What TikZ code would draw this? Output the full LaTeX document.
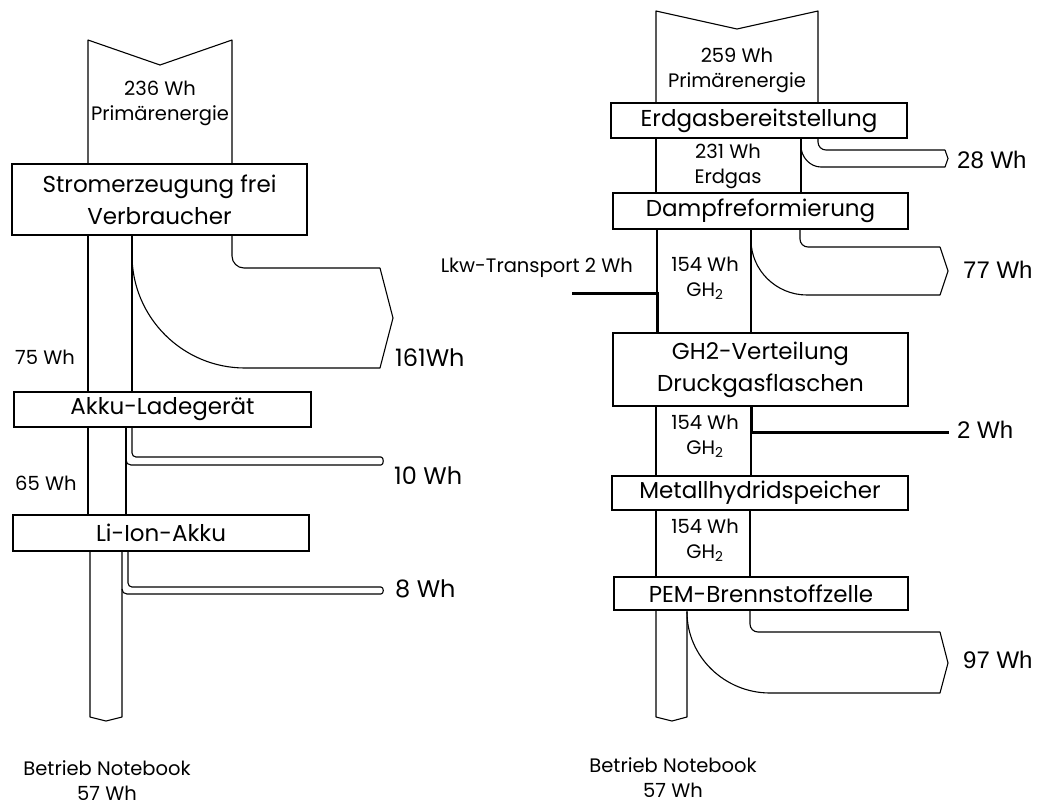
\documentclass[tikz,border=0pt]{standalone}
\usepackage{fontspec}
\setmainfont{Poppins}
\newfontfamily\arialfont{Liberation Sans}
\newcommand\bigtxt{\fontsize{23}{32}\selectfont}
\newcommand\smalltxt{\fontsize{19.5}{25}\selectfont}
\newcommand\losstxt{\fontsize{24}{28}\selectfont}

\begin{document}
\begin{tikzpicture}[x=1pt,y=-1pt,
  flow/.style={line width=1.1pt, line join=round},
  thickflow/.style={line width=3pt},
  boxline/.style={draw, fill=white, line width=1.3pt, inner sep=0pt, align=center, font=\bigtxt},
  lbl/.style={font=\smalltxt, align=center, inner sep=0pt},
  loss/.style={font=\losstxt, anchor=west, inner sep=0pt},
  lossr/.style={font=\arialfont\losstxt, anchor=west, inner sep=0pt}]
\useasboundingbox (0,0) rectangle (1037,807);

% left: Strom aus dem Netz
\draw[flow] (88,164) -- (88,40) -- (160,65) -- (232,40) -- (232,164);
\node[lbl] (lprim) at (160,103) {236 Wh\\Primärenergie};

\draw[flow] (88,235) -- (88,392);
\draw[flow] (132,235) -- (132,392);
\draw[flow, rounded corners=12pt] (232,235) -- (232,268) -- (380,268);
\draw[flow] (380,268) -- (393,318) -- (380,368) -- (245,368) .. controls (182.6,368) and (132,317.4) .. (132,255);
\node[boxline, minimum width=295pt, minimum height=71pt] (strom) at (159.5,199.5) {Stromerzeugung frei\\Verbraucher};
\node[loss] (l161) at (395,358) {161Wh};
\node[lbl, anchor=west] (l75) at (15,357) {75 Wh};

\draw[flow] (88,427) -- (88,515);
\draw[flow] (126,427) -- (126,515);
\draw[flow, rounded corners=4pt] (132,427) -- (132,457) -- (381,457);
\draw[flow] (381,457) .. controls (384,457) and (384,465) .. (381,465) -- (131,465) .. controls (128,465) and (126,463) .. (126,460);
\node[boxline, minimum width=297pt, minimum height=35pt] (lader) at (162.5,409.5) {Akku-Ladegerät};
\node[loss] (l10) at (394,476) {10 Wh};
\node[lbl, anchor=west] (l65) at (15,483) {65 Wh};

\draw[flow] (90,551) -- (90,717) -- (106,721) -- (122,717) -- (122,551);
\draw[flow, rounded corners=4pt] (128,551) -- (128,587) -- (381,587);
\draw[flow] (381,587) .. controls (384,587) and (384,594) .. (381,594) -- (127,594) .. controls (124,594) and (122,592) .. (122,589);
\node[boxline, minimum width=296pt, minimum height=36pt] (akku) at (161,533) {Li-Ion-Akku};
\node[loss] (l8) at (395,589) {8 Wh};
\node[lbl] (lnb) at (107,781) {Betrieb Notebook\\57 Wh};

% right: Wasserstoff aus Erdgas
\draw[flow] (656,103) -- (656,11) -- (737,29) -- (818,11) -- (818,103);
\node[lbl] (rprim) at (737,70) {259 Wh\\Primärenergie};

\draw[flow] (656,138) -- (656,193);
\draw[flow] (801,138) -- (801,193);
\draw[flow, rounded corners=8pt] (818,138) -- (818,150) -- (945,150);
\draw[flow] (945,150) -- (948,158.5) -- (945,167) -- (821,167) .. controls (810,167) and (801,157) .. (801,146);
\node[boxline, minimum width=296pt, minimum height=35pt] (erdgas) at (759,120.5) {Erdgasbereitstellung};
\node[lossr] (r28) at (957,160) {28 Wh};
\node[lbl] (rgas) at (728,166.5) {231 Wh\\Erdgas};

\draw[flow] (657,229) -- (657,293);
\draw[thickflow] (572,293) -- (657,293) -- (657,332);
\draw[flow] (751,229) -- (751,332);
\draw[flow, rounded corners=8pt] (800,229) -- (800,247) -- (940,247);
\draw[flow] (940,247) -- (948,271) -- (940,295) -- (807,295) .. controls (776,295) and (751,270) .. (751,240);
\node[boxline, minimum width=295pt, minimum height=36pt] (dampf) at (760.5,211) {Dampfreformierung};
\node[lossr] (r77) at (963,270) {77 Wh};
\node[lbl] (rgh1) at (705,278) {154 Wh\\GH\textsubscript{2}};
\node[lbl, anchor=east] (lkw) at (633,268) {Lkw-Transport 2 Wh};

\draw[flow] (656,406) -- (656,476);
\draw[flow] (751,432) -- (751,476);
\draw[thickflow] (751,406) -- (751,432) -- (949,432);
\node[boxline, minimum width=295pt, minimum height=73pt] (vert) at (760.5,369.5) {GH2-Verteilung\\Druckgasflaschen};
\node[lossr] (r2) at (957,430) {2 Wh};
\node[lbl] (rgh2) at (705,436.5) {154 Wh\\GH\textsubscript{2}};

\draw[flow] (656,510) -- (656,577);
\draw[flow] (750,510) -- (750,577);
\node[boxline, minimum width=296pt, minimum height=34pt] (metall) at (760,493) {Metallhydridspeicher};
\node[lbl] (rgh3) at (705,540) {154 Wh\\GH\textsubscript{2}};

\draw[flow] (656,610) -- (656,717) -- (672,721) -- (687,717) -- (687,610);
\draw[flow, rounded corners=8pt] (750,610) -- (750,632) -- (940,632);
\draw[flow] (940,632) -- (948,663) -- (940,693) -- (770,693) .. controls (725,693) and (687,657) .. (687,612);
\node[boxline, minimum width=294pt, minimum height=33pt] (pem) at (761,593.5) {PEM-Brennstoffzelle};
\node[lossr] (r97) at (963,660) {97 Wh};
\node[lbl] (rnb) at (673,778) {Betrieb Notebook\\57 Wh};
\end{tikzpicture}
\end{document}
